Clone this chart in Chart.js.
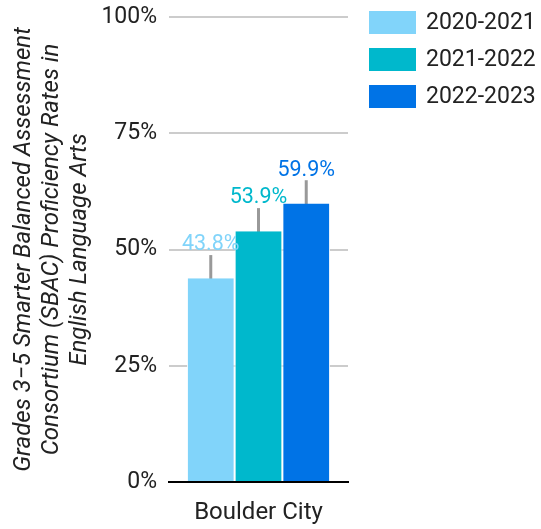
<!DOCTYPE html>
<html>
<head>
<meta charset="utf-8">
<script src="https://cdn.jsdelivr.net/npm/chart.js@4"></script>
<style>
  html, body { margin: 0; padding: 0; background: #fff; }
  #wrap { width: 541px; height: 529px; }
</style>
</head>
<body>
<div id="wrap"><canvas id="chart" width="541" height="529"></canvas></div>
<script>
/* ── Data ── */
const categories = ['Boulder City'];
const years      = ['2020-2021', '2021-2022', '2022-2023'];
const rates      = [43.8, 53.9, 59.9];
const errors     = [5, 5, 5];
const yTicks     = [0, 25, 50, 75, 100];
const colors     = ['#81d4fa', '#00b8cc', '#0073e6'];

const FONT = 'Roboto, sans-serif';

/* ── Error bars (behind) + value labels (on top) ── */
const barExtras = {
  id: 'barExtras',
  beforeDatasetsDraw(chart) {
    const { ctx } = chart;
    const y = chart.scales.y;
    ctx.save();
    ctx.strokeStyle = '#999';
    ctx.lineWidth = 3;
    chart.data.datasets.forEach((ds, i) => {
      const bar = chart.getDatasetMeta(i).data[0];
      const v = ds.data[0];
      ctx.beginPath();
      ctx.moveTo(bar.x, y.getPixelForValue(v - errors[i]));
      ctx.lineTo(bar.x, y.getPixelForValue(v + errors[i]));
      ctx.stroke();
    });
    ctx.restore();
  },
  afterDatasetsDraw(chart) {
    const { ctx } = chart;
    const y = chart.scales.y;
    ctx.save();
    ctx.font = '21.5px ' + FONT;
    ctx.textAlign = 'center';
    ctx.textBaseline = 'middle';
    chart.data.datasets.forEach((ds, i) => {
      const bar = chart.getDatasetMeta(i).data[0];
      const v = ds.data[0];
      ctx.fillStyle = colors[i];
      ctx.fillText(v.toFixed(1) + '%', bar.x, y.getPixelForValue(v + errors[i]) - 10);
    });
    ctx.restore();
  }
};

/* ── Legend on the right (boxes + labels) ── */
const sideLegend = {
  id: 'sideLegend',
  afterDraw(chart) {
    const { ctx } = chart;
    ctx.save();
    ctx.font = '23px ' + FONT;
    ctx.textAlign = 'left';
    ctx.textBaseline = 'middle';
    chart.data.datasets.forEach((ds, i) => {
      const top = 11 + i * 37;
      ctx.fillStyle = colors[i];
      ctx.fillRect(369, top, 47, 23);
      ctx.fillStyle = '#222';
      ctx.fillText(ds.label, 426, top + 12.5);
    });
    ctx.restore();
  }
};

new Chart(document.getElementById('chart'), {
  type: 'bar',
  data: {
    labels: categories,
    datasets: years.map((yr, i) => ({
      label: yr,
      data: [rates[i]],
      backgroundColor: colors[i],
      borderColor: '#ffffff',
      borderWidth: { left: 1, right: 1, top: 0, bottom: 0 },
      borderSkipped: false,
      categoryPercentage: 0.8,
      barPercentage: 1
    }))
  },
  options: {
    responsive: false,
    animation: false,
    layout: { padding: { top: 17, right: 193, left: 0, bottom: 0 } },
    plugins: {
      legend: { display: false },
      tooltip: { enabled: false }
    },
    scales: {
      x: {
        afterFit: s => { s.height = 47; },
        grid: { display: false },
        border: { color: '#000', width: 2 },
        ticks: { color: '#222', font: { family: FONT, size: 24 }, padding: 9 }
      },
      y: {
        min: 0,
        max: 100,
        afterBuildTicks: s => { s.ticks = yTicks.map(v => ({ value: v })); },
        afterFit: s => { s.width = 169; s.paddingTop = 0; s.paddingBottom = 0; },
        border: { display: false },
        grid: {
          color: c => c.tick && c.tick.value === 0 ? 'rgba(0,0,0,0)' : '#cccccc',
          lineWidth: 2,
          drawTicks: false
        },
        ticks: {
          color: '#222',
          font: { family: FONT, size: 23 },
          padding: 12,
          callback: v => v + '%'
        },
        title: {
          display: true,
          text: ['Grades 3\u22125 Smarter Balanced Assessment',
                 'Consortium (SBAC) Proficiency Rates in',
                 'English Language Arts'],
          color: '#222',
          font: { family: FONT, size: 24, style: 'italic', lineHeight: 1.17 },
          padding: { top: 10, bottom: 0 }
        }
      }
    }
  },
  plugins: [barExtras, sideLegend]
});
</script>
</body>
</html>
